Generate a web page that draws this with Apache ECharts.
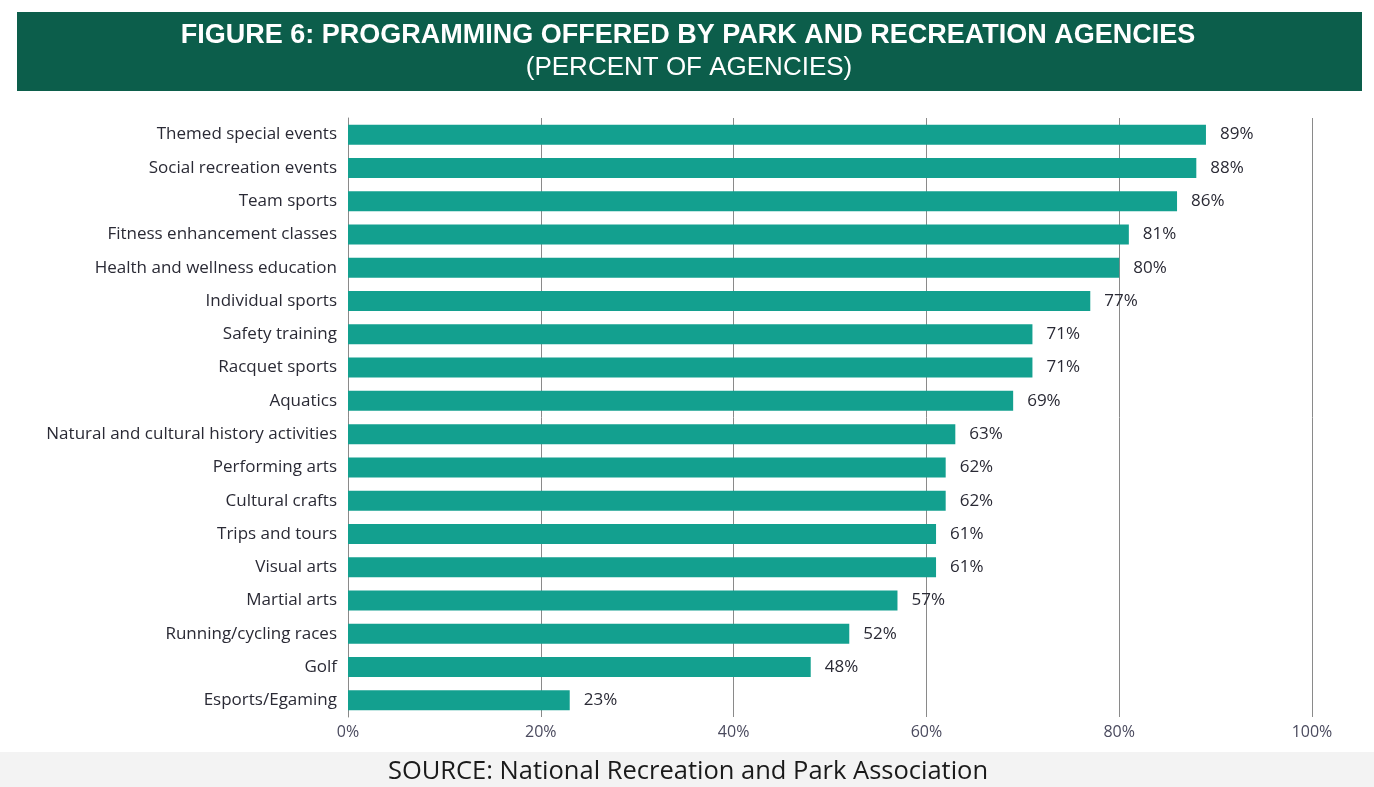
<!DOCTYPE html>
<html>
<head>
<meta charset="utf-8">
<script src="https://cdn.jsdelivr.net/npm/echarts@6/dist/echarts.min.js"></script>
<style>
html,body{margin:0;padding:0;background:#ffffff;}
#chart{width:1374px;height:787px;}
</style>
</head>
<body>
<div id="chart"></div>
<script>
const categories = [
  "Themed special events",
  "Social recreation events",
  "Team sports",
  "Fitness enhancement classes",
  "Health and wellness education",
  "Individual sports",
  "Safety training",
  "Racquet sports",
  "Aquatics",
  "Natural and cultural history activities",
  "Performing arts",
  "Cultural crafts",
  "Trips and tours",
  "Visual arts",
  "Martial arts",
  "Running/cycling races",
  "Golf",
  "Esports/Egaming"
];
const values = [89, 88, 86, 81, 80, 77, 71, 71, 69, 63, 62, 62, 61, 61, 57, 52, 48, 23];
const tickLabels = ["0%", "20%", "40%", "60%", "80%", "100%"];
const titleText = "FIGURE 6: PROGRAMMING OFFERED BY PARK AND RECREATION AGENCIES";
const subtitleText = "(PERCENT OF AGENCIES)";
const sourceText = "SOURCE: National Recreation and Park Association";

const chart = echarts.init(document.getElementById('chart'));
chart.setOption({
  animation: false,
  backgroundColor: '#ffffff',
  grid: {left: 348, right: 62, top: 118, bottom: 70, containLabel: false},
  xAxis: {
    type: 'value', min: 0, max: 100, interval: 20,
    axisLine: {show: false},
    axisTick: {show: false},
    splitLine: {show: true, lineStyle: {color: '#8a8a8a', width: 1}},
    axisLabel: {
      color: '#4a4a5e', fontSize: 16, fontFamily: 'Open Sans', margin: 7,
      formatter: v => tickLabels[Math.round(v / 20)]
    }
  },
  yAxis: {
    type: 'category', data: categories, inverse: true,
    axisLine: {show: true, lineStyle: {color: '#8a8a8a', width: 1}},
    axisTick: {show: false},
    axisLabel: {color: '#2a2a35', fontSize: 17, fontFamily: 'Open Sans', margin: 11}
  },
  series: [{
    type: 'bar', data: values, barWidth: 20,
    itemStyle: {color: '#13a08f'},
    label: {
      show: true, position: 'right', distance: 14,
      color: '#2a2a35', fontSize: 17, fontFamily: 'Open Sans',
      formatter: p => p.value + '%'
    }
  }],
  graphic: [
    {type: 'rect', shape: {x: 17, y: 12, width: 1345, height: 79}, style: {fill: '#0c5e4b'}, z: 0},
    {type: 'text', x: 688, y: 36, style: {text: titleText, fill: '#ffffff', font: 'bold 27px "Liberation Sans", sans-serif', align: 'center', verticalAlign: 'middle'}},
    {type: 'text', x: 689, y: 68, style: {text: subtitleText, fill: '#ffffff', font: '26px "Liberation Sans", sans-serif', align: 'center', verticalAlign: 'middle'}},
    {type: 'rect', shape: {x: 0, y: 752, width: 1374, height: 35}, style: {fill: '#f3f3f3'}, z: 0},
    {type: 'text', x: 688, y: 772, style: {text: sourceText, fill: '#1a1a1a', font: '25.5px "Open Sans", sans-serif', align: 'center', verticalAlign: 'middle'}}
  ]
});
</script>
</body>
</html>
